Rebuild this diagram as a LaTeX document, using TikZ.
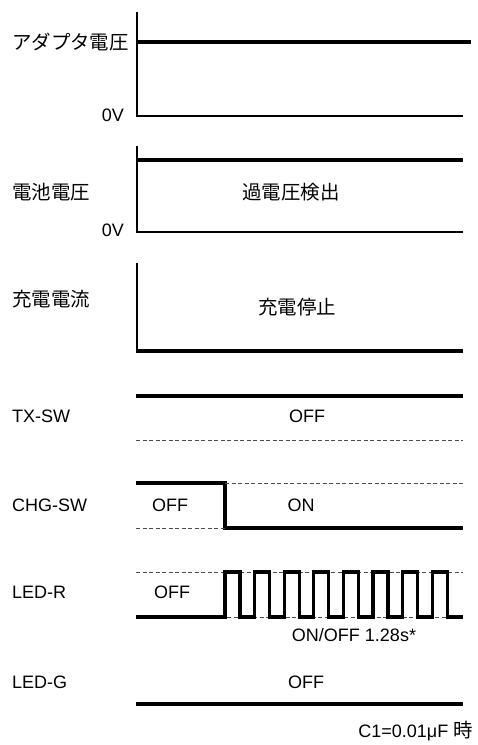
\documentclass[tikz,border=0pt]{standalone}
\usepackage{fontspec}
\setmainfont{Liberation Sans}
\newfontfamily\jp[Scale=1.08]{Noto Sans CJK JP}

\tikzset{
  sig/.style={line width=3.3pt},
  axis/.style={line width=1.5pt},
  refline/.style={line width=0.8pt, dash pattern=on 4pt off 2.5pt, black!70},
  lbl/.style={anchor=west, inner sep=0pt, font=\fontsize{18}{22}\selectfont},
  txt/.style={inner sep=0pt, font=\fontsize{18}{22}\selectfont},
}

\begin{document}
\begin{tikzpicture}[x=1pt,y=-1pt]
    \useasboundingbox (0,0) rectangle (478,745);
    % adapter voltage
    \draw [axis] (137,12) -- (137,116) -- (463,116);
    \draw [sig] (137,42) -- (471,42);
    \node [lbl] (adp) at (12,42) {\jp アダプタ電圧};
    \node [txt,anchor=east] (adpzero) at (124,115) {0V};
    % battery voltage
    \draw [axis] (137,146) -- (137,232) -- (463,232);
    \draw [sig] (137,160) -- (463,160);
    \node [lbl] (bat) at (12,192) {\jp 電池電圧};
    \node [txt] (ovp) at (291,192) {\jp 過電圧検出};
    \node [txt,anchor=east] (batzero) at (124,230) {0V};
    % charge current
    \draw [axis] (137,263) -- (137,351);
    \draw [sig] (136,351) -- (463,351);
    \node [lbl] (chg) at (12,299) {\jp 充電電流};
    \node [txt] (stop) at (297,307) {\jp 充電停止};
    % TX-SW
    \draw [sig] (136,396) -- (463,396);
    \draw [refline] (136,440) -- (463,440);
    \node [lbl] (tx) at (12,416) {TX-SW};
    \node [txt] (txoff) at (307,416) {OFF};
    % CHG-SW
    \draw [sig] (136,483) -- (225,483) -- (225,528) -- (463,528);
    \draw [refline] (225,483) -- (463,483);
    \draw [refline] (136,528) -- (225,528);
    \node [lbl] (csw) at (12,505) {CHG-SW};
    \node [txt] (cswoff) at (170,505) {OFF};
    \node [txt] (cswon) at (301,505) {ON};
    % LED-R
    \draw [refline] (136,572) -- (463,572);
    \draw [refline] (136,617) -- (463,617);
    \draw [sig] (136,617) foreach \k in {0,...,7} {
        -- ({225+29.6*\k},617) -- ++(0,-45) -- ++(15,0) -- ++(0,45)} -- (463,617);
    \node [lbl] (ledr) at (12,592) {LED-R};
    \node [txt] (ledroff) at (172,592) {OFF};
    \node [txt] (blink) at (354,635) {ON/OFF 1.28s*};
    % LED-G
    \draw [sig] (136,704) -- (463,704);
    \node [lbl] (ledg) at (12,682) {LED-G};
    \node [txt] (ledgoff) at (306,682) {OFF};
    \node [txt,anchor=east] (note) at (473,731) {C1=0.01μF {\jp 時}};
\end{tikzpicture}
\end{document}
